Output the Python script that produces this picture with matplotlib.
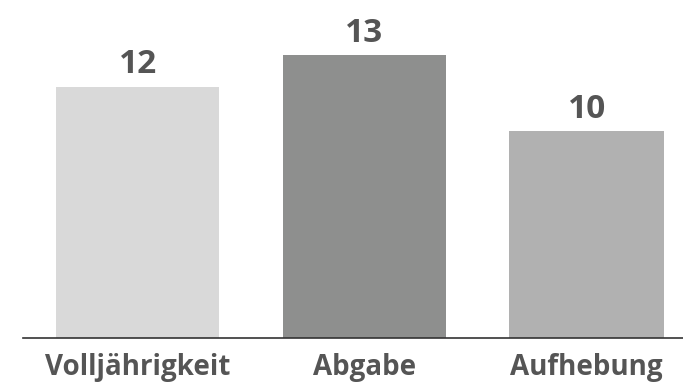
import matplotlib
matplotlib.use("Agg")
import matplotlib.pyplot as plt

categories = ["Volljährigkeit", "Abgabe", "Aufhebung"]
values = [11.9, 13.4, 9.8]
labels = ["12", "13", "10"]
colors = ["#d9d9d9", "#8e8f8e", "#b1b1b1"]
widths = [0.72, 0.72, 0.685]

plt.rcParams['font.family'] = ['Open Sans', 'DejaVu Sans']
TEXT = "#555555"

fig = plt.figure(figsize=(6.83, 3.83), dpi=100)
ax = fig.add_axes([23 / 683, 45 / 383, 660 / 683, 338 / 383])

x = list(range(len(categories)))
bars = ax.bar(x, values, width=widths, color=colors, align="edge")
centers = [b.get_x() + b.get_width() / 2 for b in bars]
for c, v, lab in zip(centers, values, labels):
    ax.annotate(lab, (c, v), xytext=(0, 9.5),
                textcoords="offset points", ha="center", va="baseline",
                fontsize=24, fontweight="bold", color=TEXT)

ax.set_xlim(-0.146, 2.768)
ax.set_ylim(0, 16.0)
ax.set_xticks(centers)
ax.set_xticklabels(categories, fontsize=20, fontweight="bold", color=TEXT)
ax.tick_params(axis="x", length=0, pad=10.5)
ax.set_yticks([])
for s in ["top", "right", "left"]:
    ax.spines[s].set_visible(False)
ax.spines["bottom"].set_color("#333333")
ax.spines["bottom"].set_linewidth(1.2)

fig.savefig("out.png", dpi=100)
